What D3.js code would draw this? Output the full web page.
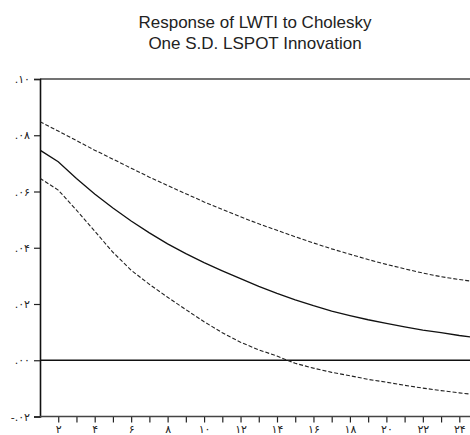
<!DOCTYPE html>
<html>
<head>
<meta charset="utf-8">
<script src="https://cdn.jsdelivr.net/npm/d3@7"></script>
<style>
  html, body { margin: 0; padding: 0; background: #fff; }
  svg { display: block; }
</style>
</head>
<body>
<svg id="chart" width="470" height="435"></svg>
<script>
// ---- data ----
const periods = [1,2,3,4,5,6,7,8,9,10,11,12,13,14,15,16,17,18,19,20,21,22,23,24,25];
const response = [0.0747,0.0706,0.0646,0.0591,0.0541,0.0495,0.0453,0.0414,0.0379,0.0347,0.0318,0.0290,0.0263,0.0238,0.0215,0.0194,0.0175,0.0159,0.0144,0.0131,0.0119,0.0107,0.0098,0.0088,0.0080];
const upperBand = [0.0848,0.0815,0.0781,0.0747,0.0715,0.0683,0.0651,0.0621,0.0592,0.0563,0.0536,0.0510,0.0485,0.0462,0.0439,0.0417,0.0396,0.0377,0.0358,0.0341,0.0325,0.0310,0.0297,0.0287,0.0278];
const lowerBand = [0.0647,0.0605,0.0534,0.0459,0.0384,0.0320,0.0270,0.0224,0.0180,0.0137,0.0098,0.0064,0.0037,0.0015,-0.0011,-0.0028,-0.0043,-0.0055,-0.0068,-0.0078,-0.0089,-0.0099,-0.0108,-0.0116,-0.0123];
const yTicks = [-0.02, 0.00, 0.02, 0.04, 0.06, 0.08, 0.10];
const yTickLabels = ["-.۰۲", ".۰۰", ".۰۲", ".۰۴", ".۰۶", ".۰۸", ".۱۰"];
const xTicks = [2,3,4,5,6,7,8,9,10,11,12,13,14,15,16,17,18,19,20,21,22,23,24];
const xTickLabels = {2:"۲",4:"۴",6:"۶",8:"۸",10:"۱۰",12:"۱۲",14:"۱۴",16:"۱۶",18:"۱۸",20:"۲۰",22:"۲۲",24:"۲۴"};
const titleLines = ["Response of LWTI to Cholesky", "One S.D. LSPOT Innovation"];

// ---- layout ----
const svg = d3.select("#chart");
const pLeft = 40, pRight = 470, pTop = 79, pBottom = 416.5;
const x = d3.scaleLinear().domain([1, 24]).range([pLeft, 459.3]);
const y = d3.scaleLinear().domain([-0.02, 0.10]).range([pBottom, pTop]);

svg.append("defs").append("clipPath").attr("id", "clip")
  .append("rect").attr("x", pLeft).attr("y", pTop).attr("width", pRight - pLeft).attr("height", pBottom - pTop);

// title
const title = svg.append("text")
  .attr("x", 255).attr("text-anchor", "middle")
  .attr("font-family", "'Liberation Sans', Arial, sans-serif")
  .attr("font-size", 17).attr("fill", "#222");
titleLines.forEach((t, i) => {
  title.append("tspan").attr("x", 255).attr("y", i === 0 ? 28 : 48.5).text(t);
});

// frame: top line
svg.append("line").attr("x1", pLeft).attr("x2", pRight).attr("y1", pTop).attr("y2", pTop)
  .attr("stroke", "#444").attr("stroke-width", 1.5);

// zero line
svg.append("line").attr("x1", pLeft).attr("x2", pRight).attr("y1", y(0)).attr("y2", y(0))
  .attr("stroke", "#111").attr("stroke-width", 1.3);

// y axis
const yAxis = d3.axisLeft(y).tickValues(yTicks).tickSize(6).tickPadding(4)
  .tickFormat((d, i) => yTickLabels[i]);
const gy = svg.append("g").attr("transform", `translate(${pLeft},0)`).call(yAxis);
gy.select(".domain").attr("stroke", "#111").attr("stroke-width", 1.6);
gy.selectAll(".tick line").attr("stroke", "#222").attr("stroke-width", 1.2);
gy.selectAll(".tick text").attr("font-family", "'DejaVu Sans', sans-serif")
  .attr("font-size", 11).attr("fill", "#222");

// x axis
const xAxis = d3.axisBottom(x).tickValues(xTicks).tickSize(6).tickPadding(3)
  .tickFormat(d => xTickLabels[d] || "");
const gx = svg.append("g").attr("transform", `translate(0,${pBottom})`).call(xAxis);
gx.select(".domain").remove();
gx.append("line").attr("x1", pLeft).attr("x2", pRight).attr("y1", 0).attr("y2", 0)
  .attr("stroke", "#444").attr("stroke-width", 1.5);
gx.selectAll(".tick line").attr("stroke", "#222").attr("stroke-width", 1.2);
gx.selectAll(".tick text").attr("font-family", "'DejaVu Sans', sans-serif")
  .attr("font-size", 11).attr("fill", "#222");

// lines
const line = d3.line().x((d, i) => x(periods[i])).y(d => y(d)).curve(d3.curveLinear);
const plot = svg.append("g").attr("clip-path", "url(#clip)");
plot.append("path").datum(upperBand).attr("d", line)
  .attr("fill", "none").attr("stroke", "#222").attr("stroke-width", 1.1).attr("stroke-dasharray", "4,2");
plot.append("path").datum(lowerBand).attr("d", line)
  .attr("fill", "none").attr("stroke", "#222").attr("stroke-width", 1.1).attr("stroke-dasharray", "4,2");
plot.append("path").datum(response).attr("d", line)
  .attr("fill", "none").attr("stroke", "#111").attr("stroke-width", 1.3);
</script>
</body>
</html>
